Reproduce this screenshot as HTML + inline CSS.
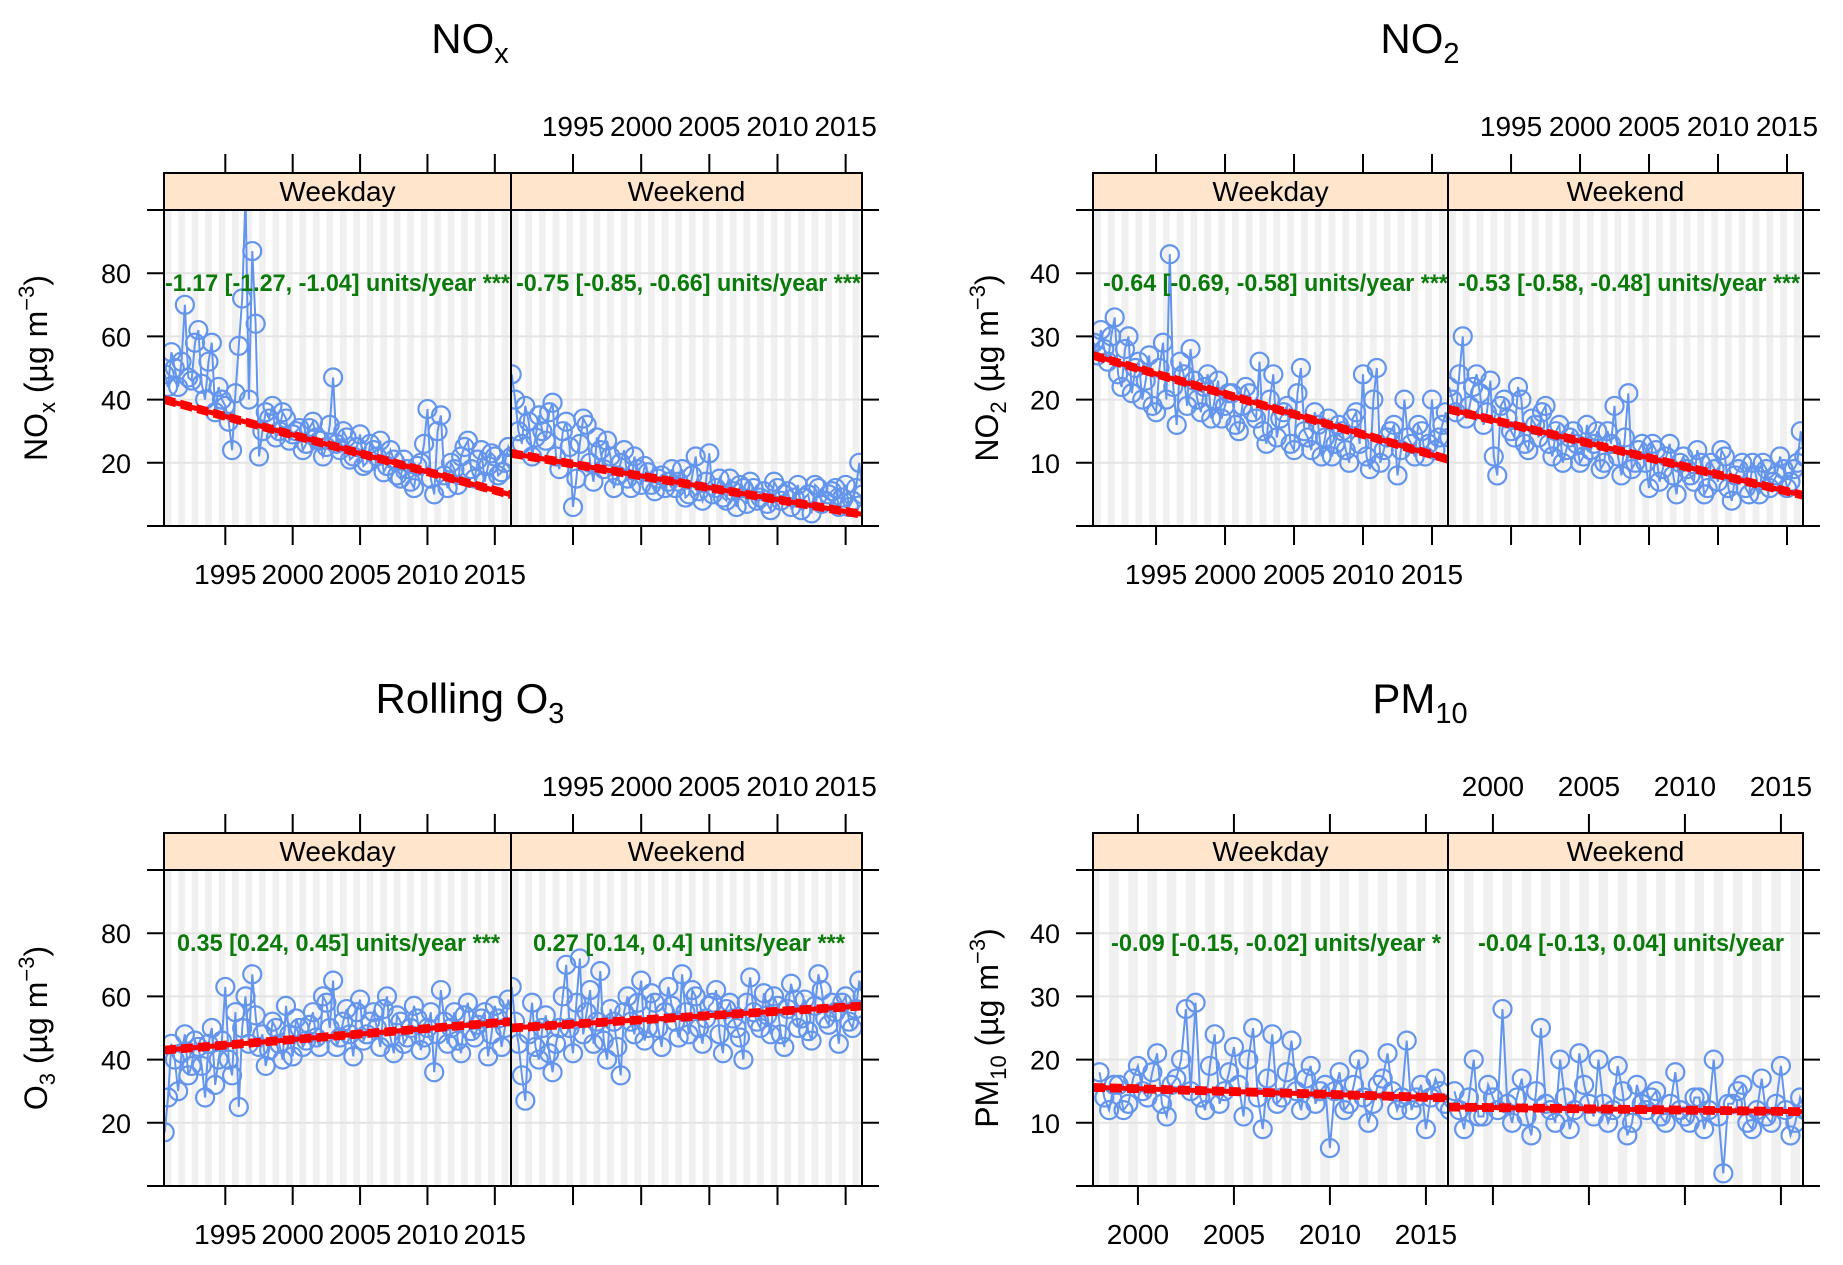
<!DOCTYPE html>
<html><head><meta charset="utf-8"><style>
html,body{margin:0;padding:0;background:#fff;}
svg{display:block;font-family:"Liberation Sans",sans-serif;}
</style></head><body>
<svg id="chart" width="1843" height="1265" viewBox="0 0 1843 1265" xmlns="http://www.w3.org/2000/svg"></svg>
<script>
// ---- data (samples every half year, plus mid-quarter samples) ----
const noxWeekday=[48,55,44,70,46,62,40,58,44,38,24,57,105,87,22,36,38,30,34,29,31,26,33,27,25,47,24,28,22,29,20,24,27,19,21,15,18,12,20,37,10,35,12,18,22,27,15,24,19,22,17,25];
const noxWeekdayMid=[44,50,52,47,58,45,52,36,40,33,42,72,40,64,30,34,28,36,27,30,24,31,28,22,32,26,30,21,25,19,26,22,17,24,16,21,14,19,26,15,30,16,20,13,25,18,21,14,23,16,20,22];
const noxWeekend=[48,30,38,22,35,27,39,18,33,6,26,32,14,24,27,12,20,15,22,13,17,11,16,14,12,18,10,22,8,23,12,9,15,6,12,14,8,11,5,12,10,6,13,9,4,12,8,11,6,13,8,20];
const noxWeekendMid=[40,26,33,28,30,36,22,30,25,15,34,20,28,18,22,16,24,12,18,19,13,15,12,18,14,9,16,11,14,10,15,8,11,13,7,12,9,7,14,8,11,9,5,10,13,7,10,12,9,6,12,10];
const no2Weekday=[29,31,26,33,22,30,25,20,27,18,29,43,16,24,28,20,22,17,23,19,21,15,22,18,26,13,24,17,19,12,25,14,18,11,17,13,15,10,18,24,9,25,12,15,8,20,13,16,11,20,14,18];
const no2WeekdayMid=[27,28,30,24,28,21,26,23,19,25,20,22,26,19,23,18,24,20,17,21,16,19,21,17,15,20,14,18,13,21,15,12,16,14,11,16,12,17,13,11,20,10,14,16,12,14,11,15,13,12,16,14];
const no2Weekend=[22,18,30,19,24,16,23,8,20,15,22,13,17,14,19,11,16,12,15,10,16,13,9,15,19,8,21,10,13,6,12,9,13,5,11,8,12,5,10,7,11,4,9,6,10,5,9,7,11,6,9,15];
const no2WeekendMid=[20,24,17,22,21,18,11,19,17,14,20,12,16,18,13,15,10,14,13,11,12,15,10,13,11,14,9,12,10,13,7,11,8,10,9,7,10,6,9,12,6,8,10,5,8,10,6,8,9,7,10,11];
const o3Weekday=[17,45,30,48,38,44,28,50,40,63,35,25,60,67,44,38,52,45,57,41,50,46,55,44,58,65,47,56,41,59,48,55,44,60,42,52,47,57,43,50,36,62,45,55,42,58,47,53,41,57,44,59];
const o3WeekdayMid=[28,40,42,35,46,38,45,32,46,40,55,50,45,54,48,43,50,40,48,53,44,51,47,60,50,44,52,48,55,46,52,50,56,47,54,45,50,53,47,55,48,52,50,46,54,49,51,55,48,53,50,55];
const o3Weekend=[63,45,27,58,40,54,36,50,70,42,72,55,45,68,40,52,35,60,48,65,50,58,44,63,52,67,48,60,45,57,62,42,58,50,40,66,52,61,48,57,44,64,50,59,46,67,53,58,45,60,50,65];
const o3WeekendMid=[52,35,48,44,50,42,45,60,50,58,48,62,52,46,56,44,55,52,58,46,61,50,55,57,47,55,62,50,53,58,48,56,53,47,58,55,50,54,60,48,56,59,53,49,57,62,51,55,58,52,56,60];
const pmWeekday=[18,12,16,13,19,14,21,11,17,28,29,12,24,15,22,11,25,9,24,14,23,12,19,15,6,18,13,20,10,16,21,12,23,14,9,17,13];
const pmWeekdayMid=[14,16,12,17,15,18,13,16,20,15,14,19,13,18,16,20,14,17,13,18,15,17,13,16,15,12,16,14,13,17,15,14,12,16,14,15,12];
const pmWeekend=[15,9,20,11,14,28,10,17,8,25,12,20,9,21,13,20,10,19,8,16,12,15,10,18,11,14,9,20,2,13,16,9,17,10,19,8,14];
const pmWeekendMid=[12,14,11,16,12,13,14,11,15,13,10,14,12,16,11,13,12,15,10,13,14,11,13,12,10,14,12,11,13,15,10,12,11,13,12,10,12];
const startYears=[1990.5,1990.5,1990.5,1990.5,1990.5,1990.5,1998,1998];
const trendStart=[40,23,27,18.5,43,50,15.6,12.5];
const trendSlope=[-1.17,-0.75,-0.64,-0.53,0.35,0.27,-0.09,-0.04];
const annot=["-1.17 [-1.27, -1.04] units/year ***","-0.75 [-0.85, -0.66] units/year ***","-0.64 [-0.69, -0.58] units/year ***","-0.53 [-0.58, -0.48] units/year ***","0.35 [0.24, 0.45] units/year ***","0.27 [0.14, 0.4] units/year ***","-0.09 [-0.15, -0.02] units/year *","-0.04 [-0.13, 0.04] units/year"];
const yearTicksA=[1995,2000,2005,2010,2015];
const yearTicksB=[2000,2005,2010,2015];
const yTicks100=[0,20,40,60,80,100];
const yLabels100=[20,40,60,80];
const yTicks50=[0,10,20,30,40,50];
const yLabels50=[10,20,30,40];

const NS="http://www.w3.org/2000/svg";
const svg=document.getElementById('chart');
function mk(tag,attrs,parent){const e=document.createElementNS(NS,tag);for(const k in attrs)e.setAttribute(k,attrs[k]);(parent||svg).appendChild(e);return e;}

const charts=[
 {name:'nox',x0:164,xm:511,x1:862,top:173,ptop:210,bot:526,xmin:1990.45,xmax:2016.2,ymax:100,yt:yTicks100,yl:yLabels100,xt:yearTicksA,series:[[noxWeekday,noxWeekdayMid],[noxWeekend,noxWeekendMid]],idx:[0,1],title:['NO','x'],tx:470,ty:53,ytitle:['NO','x'],ytx:47,txtX:[[165,345],[516,345]]},
 {name:'no2',x0:1093,xm:1448,x1:1803,top:173,ptop:210,bot:526,xmin:1990.43,xmax:2016.16,ymax:50,yt:yTicks50,yl:yLabels50,xt:yearTicksA,series:[[no2Weekday,no2WeekdayMid],[no2Weekend,no2WeekendMid]],idx:[2,3],title:['NO','2'],tx:1420,ty:53,ytitle:['NO','2'],ytx:998,txtX:[[1103,345],[1458,342]]},
 {name:'o3',x0:164,xm:511,x1:862,top:833,ptop:870,bot:1186,xmin:1990.45,xmax:2016.2,ymax:100,yt:yTicks100,yl:yLabels100,xt:yearTicksA,series:[[o3Weekday,o3WeekdayMid],[o3Weekend,o3WeekendMid]],idx:[4,5],title:['Rolling O','3'],tx:470,ty:713,ytitle:['O','3'],ytx:47,txtX:[[177,323],[533,312]]},
 {name:'pm10',x0:1093,xm:1448,x1:1803,top:833,ptop:870,bot:1186,xmin:1997.66,xmax:2016.15,ymax:50,yt:yTicks50,yl:yLabels50,xt:yearTicksB,series:[[pmWeekday,pmWeekdayMid],[pmWeekend,pmWeekendMid]],idx:[6,7],title:['PM','10'],tx:1420,ty:713,ytitle:['PM','10'],ytx:998,txtX:[[1111,330],[1478,306]]}
];

charts.forEach(c=>{
 const g=mk('g',{});
 
 
 const yS=v=>c.bot-(v/c.ymax)*(c.bot-c.ptop);
 const t=mk('text',{x:c.tx,y:c.ty,'font-size':42,'text-anchor':'middle'},g);
 
 
 t.appendChild(document.createTextNode(c.title[0]));
 const ts=mk('tspan',{'font-size':29,dy:10},t);ts.textContent=c.title[1];
 const yt=mk('text',{transform:`translate(${c.ytx},${(c.ptop+c.bot)/2}) rotate(-90)`,'font-size':32,'text-anchor':'middle'},g);
 
 
 yt.appendChild(document.createTextNode(c.ytitle[0]));
 const s1=mk('tspan',{'font-size':22,dy:8},yt);s1.textContent=c.ytitle[1];
 const s2=mk('tspan',{dy:-8},yt);s2.textContent=' (µg m';
 const s3=mk('tspan',{'font-size':22,dy:-13},yt);s3.textContent='−3';
 const s4=mk('tspan',{dy:13},yt);s4.textContent=')';
 c.yt.forEach(v=>{
  const y=yS(v);
  const l=mk('line',{x1:c.x0-17,x2:c.x0,y1:y,y2:y,stroke:'#000','stroke-width':2},g);
  
  
  const r=mk('line',{x1:c.x1,x2:c.x1+17,y1:y,y2:y,stroke:'#000','stroke-width':2},g);
  
  
 });
 c.yl.forEach(v=>{
  const tx=mk('text',{x:c.x0-33,y:yS(v)+10,'font-size':27,'text-anchor':'end'},g);
  
  
  tx.textContent=v;
 });
 const panels=[[c.x0,c.xm],[c.xm,c.x1]];
 const names=['Weekday','Weekend'];
 panels.forEach((p,pi)=>{
  const [a,b]=p;
  const xS=yr=>a+(yr-c.xmin)/(c.xmax-c.xmin)*(b-a);
  const pg=mk('g',{},g);
  
  
  const cid='clip-'+c.name+pi;
  const cp=mk('clipPath',{id:cid},pg);mk('rect',{x:a,y:c.ptop,width:b-a,height:c.bot-c.ptop},cp);
  const inner=mk('g',{'clip-path':`url(#${cid})`},pg);
  mk('rect',{x:a,y:c.ptop,width:b-a,height:c.bot-c.ptop,fill:'#fff'},inner);
  for(let yr=Math.floor(c.xmin)-1;yr<=c.xmax;yr++){
   const bx=xS(yr+0.5),bw=xS(yr+1)-bx;
   const band=mk('rect',{x:bx,y:c.ptop,width:bw,height:c.bot-c.ptop,fill:'#f0f0f0'},inner);
   
   
  }
  c.yt.forEach(v=>{mk('line',{x1:a,x2:b,y1:yS(v),y2:yS(v),stroke:'#e4e4e4','stroke-width':2},inner);});
  const [main,mid]=c.series[pi];const k=c.idx[pi];const sy=startYears[k];
  const pts=[];
  main.forEach((v,i)=>{pts.push([sy+i*0.5,v]);if(i<mid.length)pts.push([sy+0.25+i*0.5,mid[i]]);});
  let d='';
  pts.forEach((q,i)=>{d+=(i?'L':'M')+xS(q[0]).toFixed(1)+','+yS(q[1]).toFixed(1);});
  const ln=mk('path',{d:d,fill:'none',stroke:'#6495ED','stroke-width':2},inner);
  
  
  pts.forEach(q=>{
   const pt=mk('circle',{cx:xS(q[0]),cy:yS(q[1]),r:9,fill:'none',stroke:'#6495ED','stroke-width':2.2},inner);
   
   
  });
  const t0=trendStart[k],sl=trendSlope[k];
  const tv=yr=>t0+sl*(yr-c.xmin);
  const off=c.ymax/100;
  [-off,off].forEach(o=>{
   const dl=mk('line',{x1:a,y1:yS(tv(c.xmin)+o),x2:b,y2:yS(tv(c.xmax)+o),stroke:'#f00','stroke-width':2.5,'stroke-dasharray':'12,5'},inner);
   
   
  });
  const tl=mk('line',{x1:a,y1:yS(tv(c.xmin)),x2:b,y2:yS(tv(c.xmax)),stroke:'#f00','stroke-width':5},inner);
  
  
  const an=mk('text',{x:c.txtX[pi][0],y:(c.ptop+81),'font-size':24,'font-weight':'bold',fill:'#0a7a0a',textLength:c.txtX[pi][1],lengthAdjust:'spacingAndGlyphs'},pg);
  
  
  an.textContent=annot[k];
  mk('rect',{x:a,y:c.ptop,width:b-a,height:c.bot-c.ptop,fill:'none',stroke:'#000','stroke-width':2},pg);
  const st=mk('rect',{x:a,y:c.top,width:b-a,height:c.ptop-c.top,fill:'#FFE5CC',stroke:'#000','stroke-width':2},pg);
  
  
  const sx=mk('text',{x:(a+b)/2,y:c.ptop-9,'font-size':28,'text-anchor':'middle'},pg);
  
  
  sx.textContent=names[pi];
  c.xt.forEach(yr=>{
   const x=xS(yr);
   mk('line',{x1:x,x2:x,y1:c.bot,y2:c.bot+19,stroke:'#000','stroke-width':2},pg);
   mk('line',{x1:x,x2:x,y1:c.top-19,y2:c.top,stroke:'#000','stroke-width':2},pg);
   const lbl=mk('text',{x:x,'font-size':28,'text-anchor':'middle',y:pi===0?c.bot+58:c.top-37},pg);
   
   
   lbl.textContent=yr;
  });
 });
});
</script>
</body></html>
